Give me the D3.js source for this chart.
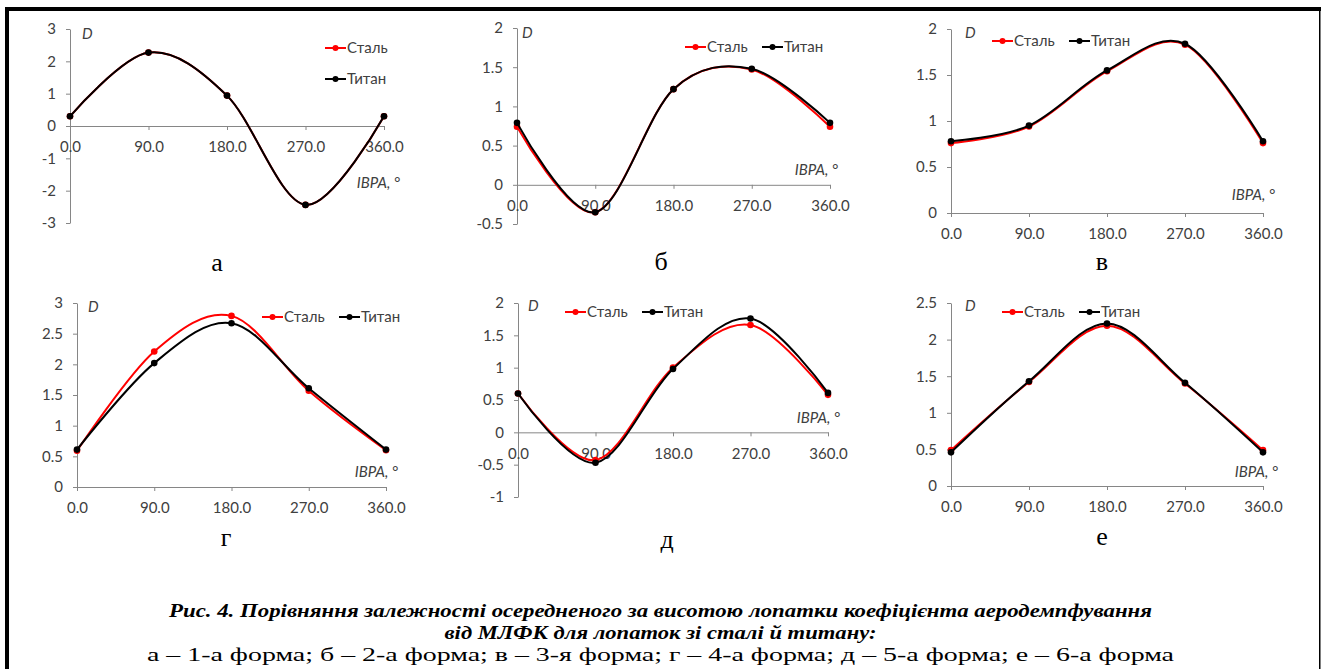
<!DOCTYPE html>
<html>
<head>
<meta charset="utf-8">
<script src="https://cdn.jsdelivr.net/npm/d3@7"></script>
<style>
  body { margin: 0; background: #fff; }
  .tick text { font-family: Lato, "Open Sans", sans-serif; font-size: 15px; fill: #404040; }
  .ax path, .ax line { stroke: #868686; stroke-width: 1; }
  .lbl { font-family: Lato, "Open Sans", sans-serif; font-size: 15px; fill: #404040; }
</style>
</head>
<body>
<div id="chart"></div>
<script>
// x positions (IBPA, degrees) and labels
var angles = [0, 90, 180, 270, 360];
var angleLabels = ["0.0", "90.0", "180.0", "270.0", "360.0"];

// D values, one pair per mode shape
var steelA = [0.30, 2.27, 0.94, -2.44, 0.30];
var titanA = [0.30, 2.27, 0.94, -2.44, 0.30];
var steelB = [0.74, -0.35, 1.22, 1.47, 0.74];
var titanB = [0.79, -0.35, 1.22, 1.48, 0.79];
var steelC = [0.76, 0.94, 1.54, 1.83, 0.76];
var titanC = [0.78, 0.95, 1.55, 1.84, 0.78];
var steelD = [0.59, 2.21, 2.79, 1.57, 0.60];
var titanD = [0.61, 2.02, 2.67, 1.61, 0.61];
var steelE = [0.60, -0.43, 1.00, 1.66, 0.58];
var titanE = [0.60, -0.47, 0.98, 1.76, 0.61];
var steelF = [0.49, 1.42, 2.19, 1.40, 0.49];
var titanF = [0.46, 1.43, 2.22, 1.41, 0.46];

// y tick values per panel
var ticksA = [-3, -2, -1, 0, 1, 2, 3];
var ticksB = [-0.5, 0, 0.5, 1, 1.5, 2];
var ticksC = [0, 0.5, 1, 1.5, 2];
var ticksD = [0, 0.5, 1, 1.5, 2, 2.5, 3];
var ticksE = [-1, -0.5, 0, 0.5, 1, 1.5, 2];
var ticksF = [0, 0.5, 1, 1.5, 2, 2.5];

var seriesNames = ["Сталь", "Титан"];
var seriesColors = ["#ff0000", "#000000"];
var panelLetters = ["а", "б", "в", "г", "д", "е"];
var captionLines = [
  "Рис. 4. Порівняння залежності осередненого за висотою лопатки коефіцієнта аеродемпфування",
  "від МЛФК для лопаток зі сталі й титану:",
  "а – 1-а форма; б – 2-а форма; в – 3-я форма; г – 4-а форма; д – 5-а форма; е – 6-а форма"
];

var svgWidth = 1321, svgHeight = 669;

var svg = d3.select("#chart").append("svg")
  .attr("width", svgWidth)
  .attr("height", svgHeight);

// frame around the figure
svg.append("rect").attr("x", 5).attr("y", 7).attr("width", 1316).attr("height", 4).attr("fill", "#000");
svg.append("rect").attr("x", 5).attr("y", 7).attr("width", 4).attr("height", 662).attr("fill", "#000");
svg.append("rect").attr("x", 1319).attr("y", 11).attr("width", 1.5).attr("height", 658).attr("fill", "#000");

// layout for each panel
var panels = [
  { steel: steelA, titan: titanA, ticks: ticksA, x0: 70, x1: 384, yTop: 29, yBot: 223,
    letter: [217, 263], ibpa: [400, 183], dLab: [82, 34], legend: { x: 325, y: 48, vertical: true } },
  { steel: steelB, titan: titanB, ticks: ticksB, x0: 517, x1: 830, yTop: 28, yBot: 224,
    letter: [661, 262], ibpa: [838, 170], dLab: [522, 33], legend: { x: 685, y: 47 } },
  { steel: steelC, titan: titanC, ticks: ticksC, x0: 951, x1: 1263, yTop: 29, yBot: 213,
    letter: [1102, 262], ibpa: [1275, 195], dLab: [965, 33], legend: { x: 992, y: 41 } },
  { steel: steelD, titan: titanD, ticks: ticksD, x0: 77, x1: 386, yTop: 303, yBot: 487,
    letter: [226, 538], ibpa: [398, 472], dLab: [88, 307], legend: { x: 262, y: 317 } },
  { steel: steelE, titan: titanE, ticks: ticksE, x0: 518, x1: 828, yTop: 303, yBot: 497,
    letter: [667, 540], ibpa: [840, 418], dLab: [528, 306], legend: { x: 565, y: 312 } },
  { steel: steelF, titan: titanF, ticks: ticksF, x0: 951, x1: 1263, yTop: 303, yBot: 486,
    letter: [1102, 537], ibpa: [1278, 472], dLab: [965, 306], legend: { x: 1002, y: 312 } }
];

panels.forEach(function (p, i) {
  var g = svg.append("g");

  var xScale = d3.scaleLinear()
    .domain([0, 360])
    .range([p.x0, p.x1]);

  var yScale = d3.scaleLinear()
    .domain(d3.extent(p.ticks))
    .range([p.yBot, p.yTop]);

  // y axis (plain hyphen for negatives, like the original)
  g.append("g")
    .attr("class", "ax")
    .attr("transform", `translate(${p.x0},0)`)
    .call(d3.axisLeft(yScale).tickValues(p.ticks).tickFormat(function (d) { return String(d); })
      .tickSize(4).tickSizeOuter(0).tickPadding(10));

  // x axis at zero
  var xAxis = g.append("g")
    .attr("class", "ax")
    .attr("transform", `translate(0,${yScale(0)})`)
    .call(d3.axisBottom(xScale).tickValues(angles).tickFormat(function (d, j) { return angleLabels[j]; }).tickSize(4).tickSizeOuter(0));
  xAxis.selectAll(".tick text").attr("y", 0).attr("dy", "1.75em");

  // lines and markers
  var line = d3.line()
    .x(function (d, j) { return xScale(angles[j]); })
    .y(function (d) { return yScale(d); })
    .curve(d3.curveCardinal.tension(0));

  [p.steel, p.titan].forEach(function (vals, s) {
    g.append("path")
      .attr("d", line(vals))
      .attr("fill", "none")
      .attr("stroke", seriesColors[s])
      .attr("stroke-width", 2);
    g.selectAll(".m" + s)
      .data(vals)
      .enter()
      .append("circle")
      .attr("class", "m" + s)
      .attr("cx", function (d, j) { return xScale(angles[j]); })
      .attr("cy", function (d) { return yScale(d); })
      .attr("r", 3.3)
      .attr("fill", seriesColors[s]);
  });

  // axis titles
  g.append("text")
    .attr("class", "lbl")
    .attr("x", p.dLab[0]).attr("y", p.dLab[1])
    .attr("dy", "0.35em")
    .attr("font-style", "italic")
    .text("D");

  g.append("text")
    .attr("class", "lbl")
    .attr("x", p.ibpa[0]).attr("y", p.ibpa[1])
    .attr("dy", "0.35em")
    .attr("text-anchor", "end")
    .attr("font-style", "italic")
    .text("IBPA, °");

  // legend
  var lx = p.legend.x, ly = p.legend.y;
  seriesNames.forEach(function (name, s) {
    var ox = p.legend.vertical ? lx : lx + s * 77;
    var oy = p.legend.vertical ? ly + s * 31 : ly;
    g.append("line")
      .attr("x1", ox).attr("x2", ox + 21)
      .attr("y1", oy).attr("y2", oy)
      .attr("stroke", seriesColors[s]).attr("stroke-width", 2);
    g.append("circle")
      .attr("cx", ox + 10.5).attr("cy", oy).attr("r", 3)
      .attr("fill", seriesColors[s]);
    g.append("text")
      .attr("class", "lbl")
      .attr("x", ox + 22).attr("y", oy)
      .attr("dy", "0.35em")
      .text(name);
  });

  // panel letter
  g.append("text")
    .attr("x", p.letter[0]).attr("y", p.letter[1])
    .attr("dy", "0.3em")
    .attr("text-anchor", "middle")
    .attr("font-family", "'Liberation Serif', 'Times New Roman', serif")
    .attr("font-size", "26px")
    .attr("fill", "#000")
    .text(panelLetters[i]);
});

// caption
var capY = [610, 632, 654];
var capW = [983, 432, 1027];
captionLines.forEach(function (t, k) {
  svg.append("text")
    .attr("x", 660.5).attr("y", capY[k])
    .attr("dy", "0.35em")
    .attr("text-anchor", "middle")
    .attr("font-family", "'Liberation Serif', 'Times New Roman', serif")
    .attr("font-size", "19px")
    .attr("font-weight", k < 2 ? "bold" : "normal")
    .attr("font-style", k < 2 ? "italic" : "normal")
    .attr("textLength", capW[k])
    .attr("lengthAdjust", "spacingAndGlyphs")
    .attr("fill", "#000")
    .text(t);
});
</script>
</body>
</html>
